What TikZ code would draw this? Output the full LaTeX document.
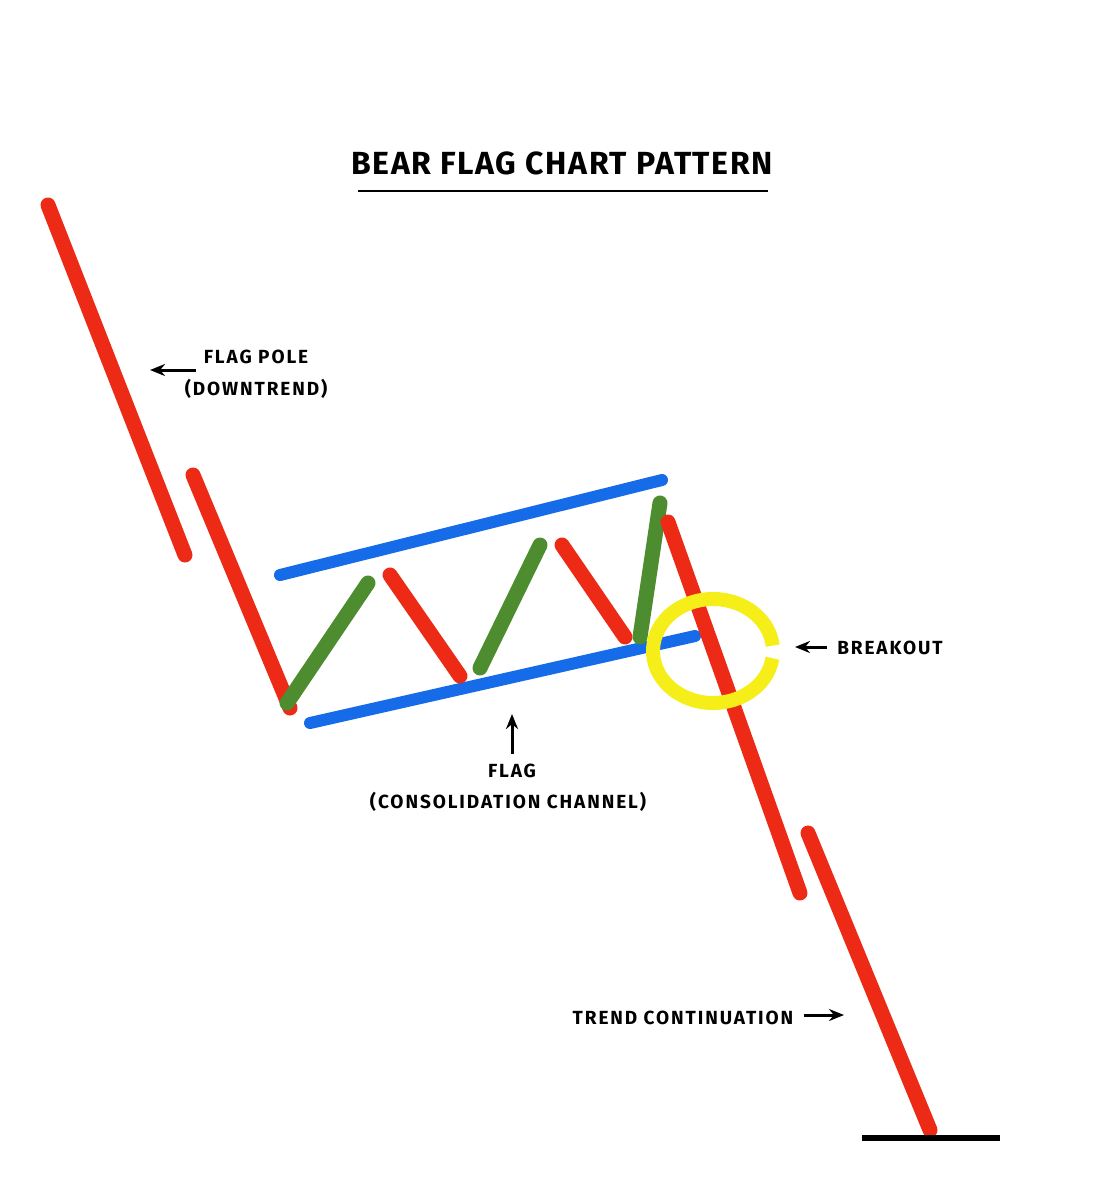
\documentclass[tikz,border=0pt]{standalone}
\usepackage{fontspec}
\setmainfont{Fira Sans}
\definecolor{BarRed}{RGB}{236,42,22}
\definecolor{BarGreen}{RGB}{78,140,48}
\definecolor{LineBlue}{RGB}{22,108,232}
\definecolor{RingYellow}{RGB}{246,238,24}
\usetikzlibrary{positioning, arrows.meta}

\begin{document}
\begin{tikzpicture}[x=0.5pt, y=-0.5pt,
  redbar/.style={BarRed, line width=7.5pt, line cap=round},
  greenbar/.style={BarGreen, line width=7.5pt, line cap=round},
  channel/.style={LineBlue, line width=6pt, line cap=round},
  lbl/.style={font=\fontsize{9.5}{11}\selectfont\bfseries\addfontfeature{LetterSpace=10}, inner sep=1pt},
  pointer/.style={-{Stealth[length=7.5pt, width=6pt]}, line width=1.5pt, black}]
\useasboundingbox[fill=white] (0,0) rectangle (1118,1200);

% title
\node[font=\fontsize{16}{18}\selectfont\bfseries\addfontfeature{LetterSpace=5}] (title) at (562,163) {BEAR FLAG CHART PATTERN};
\draw[line width=1.2pt] (358,191) -- (768,191);

% flag channel
\draw[channel] (280,575) -- (662,480);
\draw[channel] (310,723) -- (695,636);

% price swings
\draw[redbar] (48,205) -- (185,555);
\draw[redbar] (193,475) -- (290,708);
\draw[greenbar] (287,703) -- (368,583);
\draw[redbar] (390,575) -- (460,676);
\draw[greenbar] (480,668) -- (540,545);
\draw[redbar] (562,545) -- (625,637);
\draw[greenbar] (640,637) -- (660,503);
\draw[redbar] (668,522) -- (800,893);
\draw[redbar] (808,833) -- (930,1130);
\draw[line width=3pt] (862,1138) -- (1000,1138);

% breakout ring
\draw[RingYellow, line width=7pt] (713,651) ++(8:60 and 52) arc[start angle=8, end angle=354, x radius=60, y radius=52];

% labels
\node[lbl] (pole) at (256,357) {FLAG POLE};
\node[lbl] (poledown) at (256,389) {(DOWNTREND)};
\coordinate (poletip) at (150,370);
\draw[pointer] (196,370) -- (poletip);

\node[lbl] (breakout) at (890,648) {BREAKOUT};
\coordinate (breaktip) at (795,647);
\draw[pointer] (breakout.west |- breaktip) ++(-8,0) -- (breaktip);

\node[lbl] (flag) at (512,771) {FLAG};
\node[lbl] (consol) at (508,802) {(CONSOLIDATION CHANNEL)};
\coordinate (flagtip) at (512,714);
\draw[pointer] (flag.north) ++(0,-8) -- (flagtip);

\node[lbl] (trend) at (683,1018) {TREND CONTINUATION};
\coordinate (trendtip) at (844,1015);
\draw[pointer] (trend.east |- trendtip) ++(8,0) -- (trendtip);
\end{tikzpicture}
\end{document}
